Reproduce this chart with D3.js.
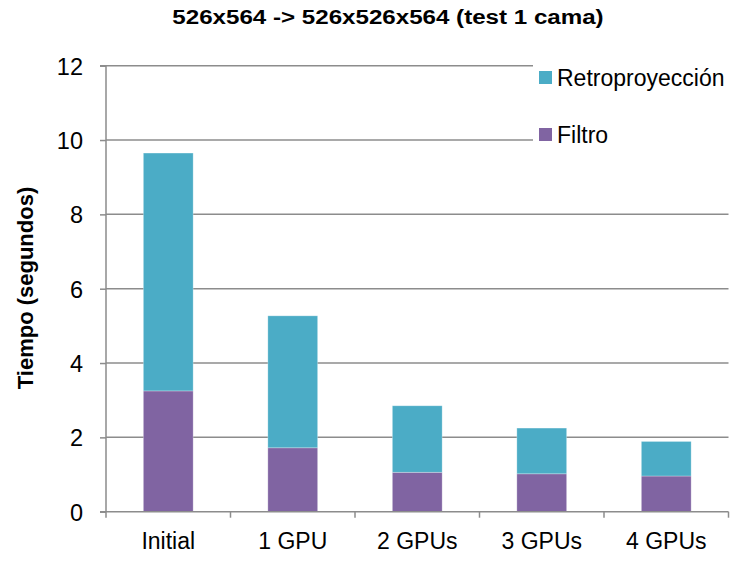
<!DOCTYPE html>
<html>
<head>
<meta charset="utf-8">
<script src="https://cdn.jsdelivr.net/npm/d3@7"></script>
<style>
  html, body { margin: 0; padding: 0; background: #fff; }
  svg { display: block; font-family: "Liberation Sans", Arial, sans-serif; }
</style>
</head>
<body>
<svg id="chart" width="735" height="563"></svg>
<script>
// Reconstruction timings (seconds) per configuration
const categories = ["Initial", "1 GPU", "2 GPUs", "3 GPUs", "4 GPUs"];
const filtro = [3.25, 1.72, 1.06, 1.02, 0.96];
const retroproyeccion = [6.40, 3.55, 1.79, 1.23, 0.93];
const seriesNames = ["Filtro", "Retroproyección"];
const yTicks = [0, 2, 4, 6, 8, 10, 12];
const titleText = "526x564 -> 526x526x564 (test 1 cama)";
const yLabel = "Tiempo (segundos)";

const colors = { "Filtro": "#8064A2", "Retroproyección": "#4BACC6" };
const gridColor = "#8c8c8c";

const svg = d3.select("#chart");
const plot = { left: 106, right: 728.5, top: 65.7, bottom: 511.7 };

const x = d3.scaleBand()
  .domain(categories)
  .range([plot.left, plot.right])
  .paddingInner(0.6)
  .paddingOuter(0.3);

const y = d3.scaleLinear()
  .domain([0, 12])
  .range([plot.bottom, plot.top]);

// Stack the two series
const rows = categories.map((c, i) => ({ cat: c, "Filtro": filtro[i], "Retroproyección": retroproyeccion[i] }));
const stacked = d3.stack().keys(seriesNames)(rows);

// Horizontal gridlines
svg.append("g")
  .selectAll("line")
  .data(yTicks.filter(t => t > 0))
  .join("line")
  .attr("x1", plot.left).attr("x2", plot.right)
  .attr("y1", d => y(d)).attr("y2", d => y(d))
  .attr("stroke", gridColor).attr("stroke-width", 1.5);

// Bars
svg.append("g")
  .selectAll("g")
  .data(stacked)
  .join("g")
  .attr("fill", d => colors[d.key])
  .selectAll("rect")
  .data(d => d)
  .join("rect")
  .attr("x", d => x(d.data.cat))
  .attr("width", x.bandwidth())
  .attr("y", d => y(d[1]))
  .attr("height", d => y(d[0]) - y(d[1]))
  .attr("stroke", "rgba(255,255,255,0.35)")
  .attr("stroke-width", 0.8);

// Y axis
const yAxis = d3.axisLeft(y).tickValues(yTicks).tickSize(6).tickPadding(17).tickFormat(d3.format("d"));
const gy = svg.append("g").attr("transform", `translate(${plot.left},0)`).call(yAxis);
gy.select(".domain").attr("stroke", gridColor).attr("stroke-width", 1.5).attr("d", `M-6,${plot.top}H0V${plot.bottom}`);
gy.selectAll(".tick line").attr("stroke", gridColor).attr("stroke-width", 1.5);
gy.selectAll(".tick text").attr("fill", "#000").attr("font-size", 23.5).attr("font-family", "Liberation Sans, Arial, sans-serif").attr("dy", "0.36em");

// X axis
const xAxis = d3.axisBottom(x).tickSize(0).tickPadding(21);
const gx = svg.append("g").attr("transform", `translate(0,${plot.bottom})`).call(xAxis);
gx.select(".domain").attr("stroke", gridColor).attr("stroke-width", 1.5).attr("d", `M${plot.left - 6},0H${plot.right}`);
gx.selectAll(".tick text").attr("fill", "#000").attr("font-size", 23).attr("font-family", "Liberation Sans, Arial, sans-serif").attr("dy", "0.71em");
// Category boundary ticks
const bounds = categories.map(c => x(c) - x.step() * x.paddingOuter()).concat([plot.right]);
gx.append("g").selectAll("line")
  .data(bounds)
  .join("line")
  .attr("x1", d => d).attr("x2", d => d)
  .attr("y1", 0).attr("y2", 6)
  .attr("stroke", gridColor).attr("stroke-width", 1.5);

// Legend (opaque box over the plot)
const legend = svg.append("g").attr("transform", "translate(533,60)");
legend.append("rect").attr("x", 0).attr("y", 0).attr("width", 202).attr("height", 92).attr("fill", "#fff");
const legendItems = ["Retroproyección", "Filtro"];
const li = legend.selectAll("g.item")
  .data(legendItems)
  .join("g")
  .attr("class", "item")
  .attr("transform", (d, i) => `translate(0,${i * 57})`);
li.append("rect").attr("x", 6).attr("y", 11).attr("width", 13).attr("height", 13).attr("fill", d => colors[d]);
li.append("text").attr("x", 24).attr("y", 26).attr("font-size", 23).attr("fill", "#000").text(d => d);

// Title
svg.append("text")
  .attr("transform", "translate(388,24) scale(1.15,1)")
  .attr("text-anchor", "middle")
  .attr("font-size", 21)
  .attr("font-weight", "bold")
  .attr("fill", "#000")
  .text(titleText);

// Y axis title
svg.append("text")
  .attr("transform", "translate(33,288) rotate(-90)")
  .attr("text-anchor", "middle")
  .attr("font-size", 22)
  .attr("font-weight", "bold")
  .attr("fill", "#000")
  .text(yLabel);
</script>
</body>
</html>
